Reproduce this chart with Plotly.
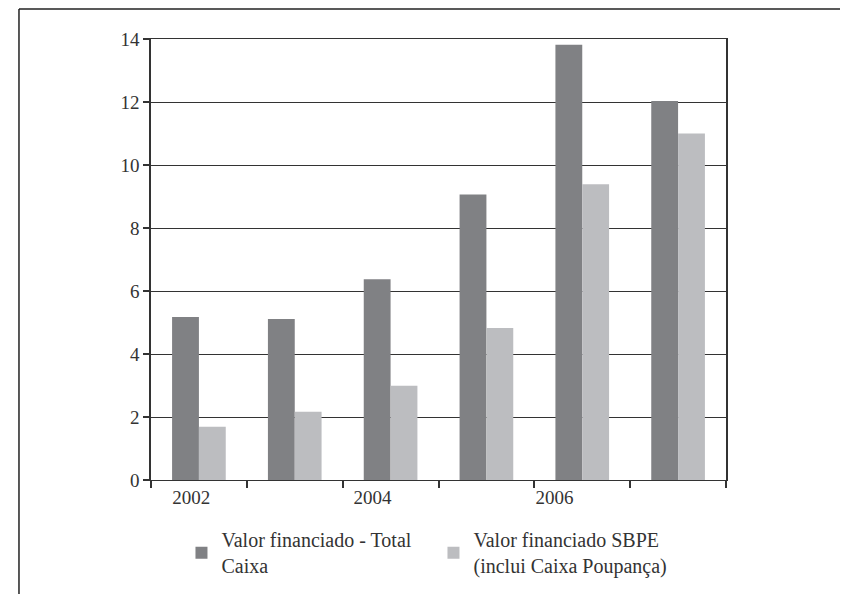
import plotly.graph_objects as go

years = [2002, 2003, 2004, 2005, 2006, 2007]
total_caixa = [5.18, 5.12, 6.38, 9.07, 13.82, 12.03]
sbpe = [1.70, 2.18, 3.00, 4.83, 9.39, 11.00]
tick_labels = ["2002", "2004", "2006"]
tick_label_pos = [2001.92, 2003.81, 2005.71]
series_names = ["Valor financiado - Total<br>Caixa",
                "Valor financiado SBPE<br>(inclui Caixa Poupança)"]

FONT = "Liberation Serif"
fig = go.Figure()
fig.add_trace(go.Bar(x=years, y=total_caixa, name=series_names[0],
                     marker=dict(color="#808184", line=dict(width=0))))
fig.add_trace(go.Bar(x=years, y=sbpe, name=series_names[1],
                     marker=dict(color="#BCBDC0", line=dict(width=0))))

fig.update_layout(
    width=840, height=586,
    margin=dict(l=143, r=122, t=31, b=112),
    paper_bgcolor="white", plot_bgcolor="white",
    barmode="group", bargap=0.44, bargroupgap=0,
    font=dict(family=FONT, size=19, color="#333333"),
    showlegend=True,
    legend=dict(orientation="h", x=0.053, y=0.126, xanchor="left", yanchor="top",
                yref="container",
                entrywidth=207, entrywidthmode="pixels", itemwidth=30,
                font=dict(family=FONT, size=20, color="#333333"),
                traceorder="normal", bgcolor="rgba(0,0,0,0)"),
    xaxis=dict(range=[2001.5, 2007.5], tickmode="array",
               tickvals=tick_label_pos, ticktext=tick_labels,
               ticks="", showgrid=False, zeroline=False,
               showline=True, linecolor="#333333", linewidth=1, mirror=True,
               minor=dict(tick0=2001.5, dtick=1, ticks="outside", ticklen=7,
                          tickcolor="#333333", tickwidth=1.5, showgrid=False),
               tickfont=dict(family=FONT, size=19, color="#333333")),
    yaxis=dict(range=[0, 14], dtick=2, ticks="outside", ticklen=6,
               tickcolor="#333333", tickwidth=1.5,
               showgrid=True, gridcolor="#333333", gridwidth=1,
               zeroline=False, showline=True, linecolor="#333333", linewidth=1.5,
               mirror=True,
               tickfont=dict(family=FONT, size=19, color="#333333")),
    shapes=[
        dict(type="line", xref="paper", yref="paper", x0=-0.2296, x1=1.2078,
             y0=1.0677, y1=1.0677, line=dict(color="#222222", width=1.5)),
        dict(type="line", xref="paper", yref="paper", x0=-0.2296, x1=-0.2296,
             y0=1.0677, y1=-0.3, line=dict(color="#222222", width=1.5)),
        dict(type="line", xref="paper", yref="paper", x0=1.2078, x1=1.2078,
             y0=1.0677, y1=-0.3, line=dict(color="#222222", width=1.5)),
    ],
)

fig.write_html("out.html")
